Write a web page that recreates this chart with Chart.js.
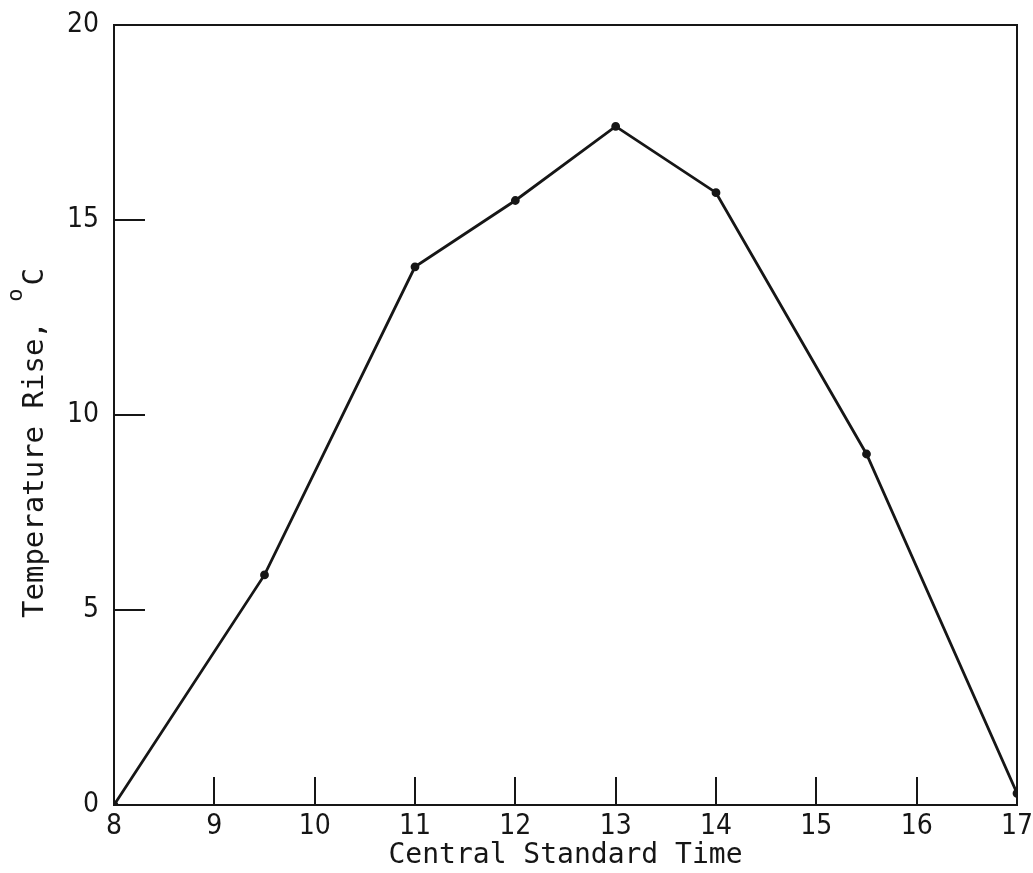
<!DOCTYPE html>
<html>
<head>
<meta charset="utf-8">
<script src="https://cdn.jsdelivr.net/npm/chart.js@4"></script>
<style>
  html, body { margin: 0; padding: 0; background: #ffffff; }
  #wrap { width: 1033px; height: 873px; }
</style>
</head>
<body>
<div id="wrap"><canvas id="c" width="1033" height="873"></canvas></div>
<script>
// ---- data ----
const times = [8, 9.5, 11, 12, 13, 14, 15.5, 17];
const rise  = [0, 5.9, 13.8, 15.5, 17.4, 15.7, 9.0, 0.3];
const xTickValues = [8, 9, 10, 11, 12, 13, 14, 15, 16, 17];
const yTickValues = [0, 5, 10, 15, 20];
const xTitle = 'Central Standard Time';
const yTitleMain = 'Temperature Rise, ';
const yTitleSup = 'o';
const yTitleUnit = 'C';

const INK = '#161616';
const TICK_FONT = { family: '"DejaVu Sans Condensed", "DejaVu Sans", sans-serif', size: 28 };
const MONO = '"DejaVu Sans Mono", monospace';

const frameAndTicks = {
  id: 'frameAndTicks',
  beforeDatasetsDraw(chart) {
    const { ctx, chartArea: a, scales: { x, y } } = chart;
    ctx.save();
    ctx.strokeStyle = INK;
    ctx.lineWidth = 2;
    ctx.strokeRect(a.left, a.top, a.right - a.left, a.bottom - a.top);
    ctx.beginPath();
    xTickValues.slice(1, -1).forEach(v => {
      const px = Math.round(x.getPixelForValue(v));
      ctx.moveTo(px, a.bottom);
      ctx.lineTo(px, a.bottom - 28);
    });
    yTickValues.slice(1, -1).forEach(v => {
      const py = Math.round(y.getPixelForValue(v));
      ctx.moveTo(a.left, py);
      ctx.lineTo(a.left + 31, py);
    });
    ctx.stroke();
    ctx.restore();
  },
  afterDraw(chart) {
    const { ctx } = chart;
    ctx.save();
    ctx.fillStyle = INK;
    ctx.translate(43, 618);
    ctx.rotate(-Math.PI / 2);
    ctx.textBaseline = 'alphabetic';
    ctx.textAlign = 'left';
    ctx.font = '29px ' + MONO;
    ctx.fillText(yTitleMain, 0, 0);
    let w = ctx.measureText(yTitleMain).width;
    ctx.font = '22px ' + MONO;
    ctx.fillText(yTitleSup, w + 2, -21);
    w += 2 + ctx.measureText(yTitleSup).width + 3;
    ctx.font = '29px ' + MONO;
    ctx.fillText(yTitleUnit, w, 0);
    ctx.restore();
  }
};

new Chart(document.getElementById('c'), {
  type: 'line',
  data: {
    datasets: [{
      data: times.map((t, i) => ({ x: t, y: rise[i] })),
      borderColor: INK,
      backgroundColor: INK,
      borderWidth: 2.8,
      pointRadius: 3,
      pointHoverRadius: 3,
      tension: 0,
      fill: false
    }]
  },
  options: {
    responsive: false,
    animation: false,
    events: [],
    layout: { padding: { left: 0, right: 16, top: 25, bottom: 0 } },
    plugins: { legend: { display: false }, tooltip: { enabled: false } },
    scales: {
      x: {
        type: 'linear',
        min: 8, max: 17,
        afterFit(s) { s.height = 68; s.paddingLeft = 0; s.paddingRight = 0; },
        afterBuildTicks(s) { s.ticks = xTickValues.map(v => ({ value: v })); },
        grid: { display: false, drawTicks: false },
        border: { display: false },
        ticks: { color: INK, font: TICK_FONT, padding: 5, maxRotation: 0, autoSkip: false },
        title: {
          display: true, text: xTitle, color: INK,
          font: { family: MONO, size: 28 },
          padding: { top: 3, bottom: 0 }
        }
      },
      y: {
        type: 'linear',
        min: 0, max: 20,
        afterFit(s) { s.width = 114; s.paddingTop = 0; s.paddingBottom = 0; },
        afterBuildTicks(s) { s.ticks = yTickValues.map(v => ({ value: v })); },
        grid: { display: false, drawTicks: false },
        border: { display: false },
        ticks: { color: INK, font: TICK_FONT, padding: 15 }
      }
    }
  },
  plugins: [frameAndTicks]
});
</script>
</body>
</html>
